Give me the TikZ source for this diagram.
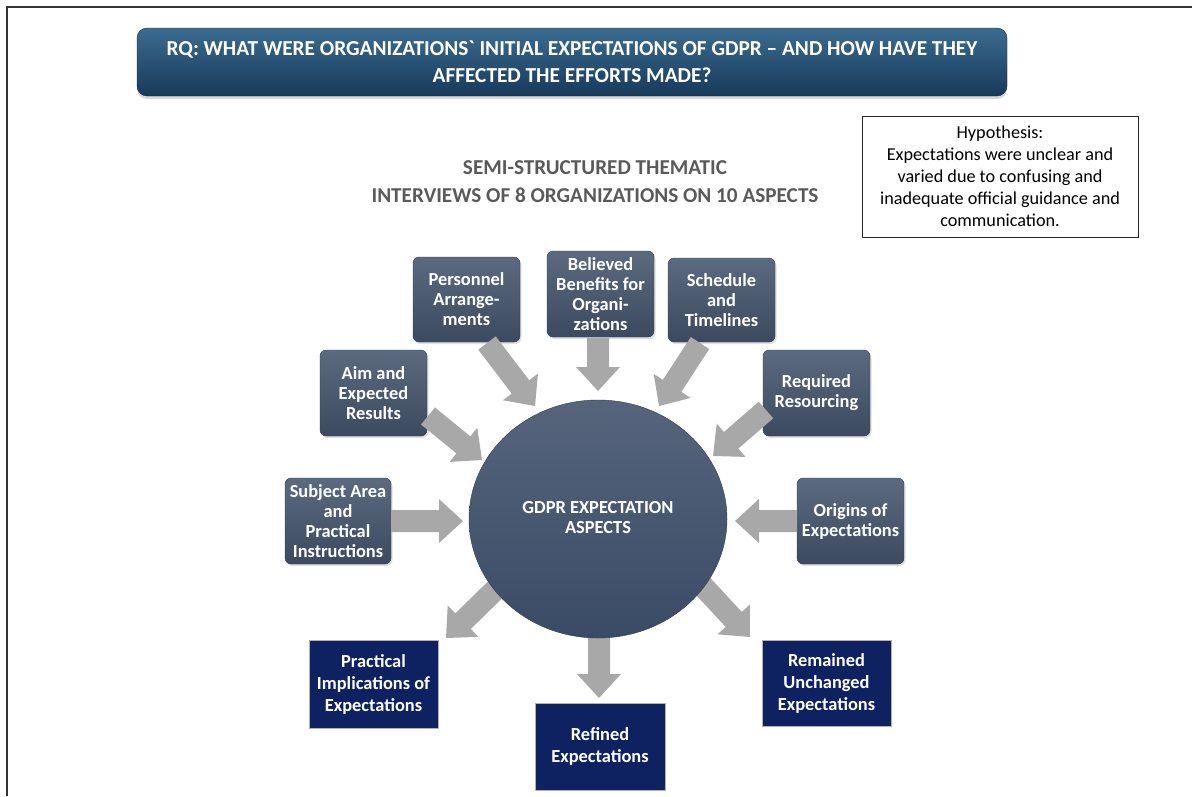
\documentclass[tikz,border=0pt]{standalone}
\usepackage{fontspec}
\setmainfont{Carlito}
\newfontfamily\rawcarlito{Carlito}
\usetikzlibrary{calc,shadows,shapes.geometric}
\definecolor{bannerTop}{HTML}{3B6C90}
\definecolor{bannerBot}{HTML}{17395A}
\definecolor{slateTop}{HTML}{5C6A80}
\definecolor{slateBot}{HTML}{3C4A60}
\definecolor{navy}{HTML}{0E2262}
\definecolor{arrowgray}{HTML}{A8A8A8}
\definecolor{subgray}{HTML}{5A5A5A}
\definecolor{circTop}{HTML}{56657C}
\definecolor{circBot}{HTML}{3A4B66}
\tikzset{
  aspectbox/.style={rounded corners=6pt, top color=slateTop, bottom color=slateBot, draw=slateBot!80!black, line width=0.4pt,
    text=white, font=\bfseries\fontsize{18.4}{20}\selectfont, align=center, inner sep=1pt,
    drop shadow={opacity=0.25, shadow xshift=1.5pt, shadow yshift=-2pt}},
  outbox/.style={fill=navy, draw=gray!60, line width=0.6pt, text=white,
    font=\bfseries\fontsize{18.4}{22}\selectfont, align=center, inner sep=1pt},
  blockarrow/.style={fill=arrowgray, draw=none}
}
\newcommand\barrow[2]{%
  \fill[blockarrow]
    ($(#1)!11pt!90:(#2)$) --
    ($($(#2)!24pt!(#1)$)!11pt!-90:(#1)$) --
    ($($(#2)!24pt!(#1)$)!22pt!-90:(#1)$) --
    (#2) --
    ($($(#2)!24pt!(#1)$)!22pt!90:(#1)$) --
    ($($(#2)!24pt!(#1)$)!11pt!90:(#1)$) --
    ($(#1)!11pt!-90:(#2)$) -- cycle;}
\begin{document}
\begin{tikzpicture}[x=1pt,y=-1pt]
\useasboundingbox (0,0) rectangle (1192,796);
\fill[white] (0,0) rectangle (1192,796);
% frame lines
\draw[line width=1.5pt, black!80] (7,796) -- (7,7) -- (1192,7);

% title banner
\node[rounded corners=10pt, top color=bannerTop, bottom color=bannerBot, draw=bannerBot!70!black,
  minimum width=870pt, minimum height=68pt, text=white, align=center,
  font=\bfseries\fontsize{21.3}{27}\selectfont,
  drop shadow={opacity=0.3, shadow xshift=0pt, shadow yshift=-3pt}] (title) at (572,62)
  {RQ: WHAT WERE ORGANIZATIONS{\rawcarlito`} INITIAL EXPECTATIONS OF GDPR -- AND HOW HAVE THEY\\AFFECTED THE EFFORTS MADE?};

% subtitle
\node[text=subgray, font=\bfseries\fontsize{21.2}{28}\selectfont, align=center] (sub) at (595,182)
  {SEMI-STRUCTURED THEMATIC\\INTERVIEWS OF 8 ORGANIZATIONS ON 10 ASPECTS};

% hypothesis
\node[draw=black!85, line width=0.8pt, minimum width=276pt, minimum height=121pt, align=center,
  font=\fontsize{18.2}{22}\selectfont] (hyp) at (1000,176.5)
  {Hypothesis:\\Expectations were unclear and\\varied due to confusing and\\inadequate official guidance and\\communication.};

% aspect boxes
\node[aspectbox, minimum width=107pt, minimum height=85pt] (pers) at (466.5,299.5) {Personnel\\Arrange-\\ments};
\node[aspectbox, minimum width=107pt, minimum height=86pt] (ben) at (600.5,294) {Believed\\Benefits for\\Organi-\\zations};
\node[aspectbox, minimum width=107pt, minimum height=84pt] (sched) at (721.5,300) {Schedule\\and\\Timelines};
\node[aspectbox, minimum width=107pt, minimum height=86pt] (aim) at (373.5,393) {Aim and\\Expected\\Results};
\node[aspectbox, minimum width=107pt, minimum height=86pt] (req) at (816.5,393) {Required\\Resourcing};
\node[aspectbox, minimum width=106pt, minimum height=86pt] (subj) at (338,521) {Subject Area\\and\\Practical\\Instructions};
\node[aspectbox, minimum width=107pt, minimum height=86pt] (orig) at (850.5,521) {Origins of\\Expectations};

% outcome boxes
\node[outbox, minimum width=129pt, minimum height=88pt] (prac) at (373.5,684) {Practical\\Implications of\\Expectations};
\node[outbox, minimum width=130pt, minimum height=87pt] (ref) at (600,746.5) {Refined\\Expectations};
\node[outbox, minimum width=129pt, minimum height=86pt] (rem) at (826.5,683) {Remained\\Unchanged\\Expectations};

% arrow end points
\coordinate (a1s) at (487,343); \coordinate (a1e) at (535,406);
\coordinate (a2s) at (598,338); \coordinate (a2e) at (598,391);
\coordinate (a3s) at (700,343); \coordinate (a3e) at (659,406);
\coordinate (a4s) at (428,416); \coordinate (a4e) at (482,460);
\coordinate (a5s) at (766,410); \coordinate (a5e) at (713,456);
\coordinate (a6s) at (391,521); \coordinate (a6e) at (463,521);
\coordinate (a7s) at (797,521); \coordinate (a7e) at (735,521);
\coordinate (o1s) at (502,583); \coordinate (o1e) at (446,638);
\coordinate (o2s) at (599,630); \coordinate (o2e) at (599,698);
\coordinate (o3s) at (700,583); \coordinate (o3e) at (750,637);

\barrow{a1s}{a1e}
\barrow{a2s}{a2e}
\barrow{a3s}{a3e}
\barrow{a4s}{a4e}
\barrow{a5s}{a5e}
\barrow{a6s}{a6e}
\barrow{a7s}{a7e}
\barrow{o1s}{o1e}
\barrow{o2s}{o2e}
\barrow{o3s}{o3e}

% center
\node[ellipse, minimum width=258pt, minimum height=238pt, top color=circTop, bottom color=circBot,
  draw=circBot!80!black, line width=0.4pt, inner sep=0pt] (ctr) at (598,519) {};
\node[text=white, font=\bfseries\fontsize{18.4}{20}\selectfont, align=center] (ctrtxt) at (598,518) {GDPR EXPECTATION\\ASPECTS};
\end{tikzpicture}
\end{document}
